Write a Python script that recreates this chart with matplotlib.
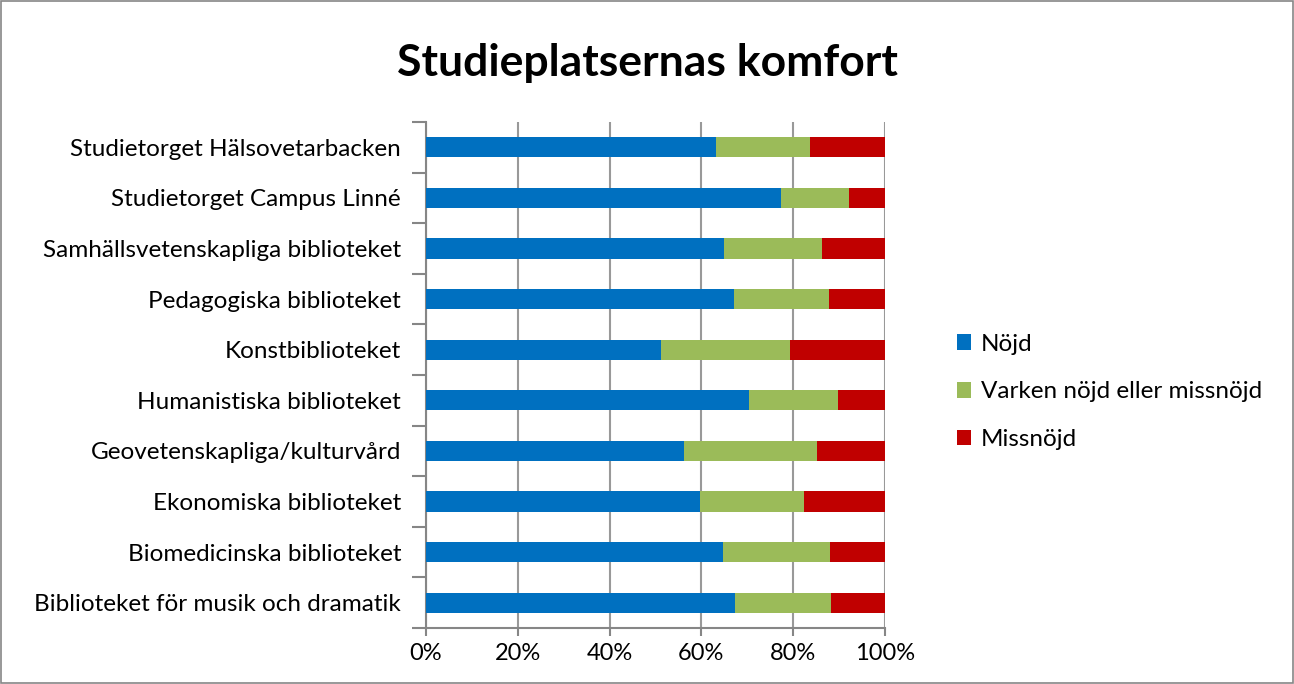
import numpy as np
import matplotlib.pyplot as plt
from matplotlib.patches import Rectangle

plt.rcParams['font.family'] = ['Lato', 'DejaVu Sans']

# data (bottom to top)
libraries = ["Biblioteket för musik och dramatik", "Biomedicinska biblioteket",
             "Ekonomiska biblioteket", "Geovetenskapliga/kulturvård",
             "Humanistiska biblioteket", "Konstbiblioteket",
             "Pedagogiska biblioteket", "Samhällsvetenskapliga biblioteket",
             "Studietorget Campus Linné", "Studietorget Hälsovetarbacken"]
nojd = [67.4, 64.8, 59.8, 56.3, 70.3, 51.2, 67.0, 64.9, 77.4, 63.2]
varken = [20.8, 23.2, 22.5, 28.8, 19.4, 28.0, 20.9, 21.3, 14.8, 20.5]
missnojd = [100 - a - b for a, b in zip(nojd, varken)]

series = [("Nöjd", nojd, "#0070C0"),
          ("Varken nöjd eller missnöjd", varken, "#9BBB59"),
          ("Missnöjd", missnojd, "#C00000")]

fig = plt.figure(figsize=(12.94, 6.84), dpi=100)
ax = fig.add_axes([426/1294, 1 - 628/684, 459/1294, 506/684])

y = np.arange(len(libraries))
left = np.zeros(len(libraries))
handles = []
for name, vals, col in series:
    b = ax.barh(y, vals, left=left, height=0.4, color=col, label=name, zorder=3)
    handles.append(b)
    left += np.array(vals)

ax.set_xlim(0, 100)
ax.set_ylim(-0.5, len(libraries) - 0.5)
ax.set_xticks(np.arange(0, 101, 20))
ax.set_xticklabels([f"{v}%" for v in range(0, 101, 20)], fontsize=17)
ax.set_yticks(y)
ax.set_yticklabels(libraries, fontsize=17.5)
ax.set_yticks(np.arange(-0.5, len(libraries), 1), minor=True)
ax.tick_params(axis='y', which='major', length=0, pad=18)
ax.tick_params(axis='y', which='minor', length=10, color='#868686', width=1.5)
ax.tick_params(axis='x', length=6, color='#868686', width=1.5, pad=5)
ax.grid(axis='x', color='#999999', linewidth=1.5, zorder=0)
for s in ['top', 'right']:
    ax.spines[s].set_visible(False)
for s in ['left', 'bottom']:
    ax.spines[s].set_color('#868686')
    ax.spines[s].set_linewidth(1.5)

fig.text(0.5, 1 - 63/684, "Studieplatsernas komfort", ha='center', va='center',
         fontsize=32, fontweight='bold')

fig.legend(handles=handles, loc='center left', bbox_to_anchor=(935/1294, 1 - 392/684),
           frameon=False, fontsize=17.5, handlelength=0.6, handleheight=0.6,
           labelspacing=1.1, handletextpad=0.4)

fig.patches.append(Rectangle((0.001, 0.001), 0.998, 0.998, transform=fig.transFigure,
                             fill=False, edgecolor='#868686', linewidth=1.2))

fig.savefig("out.png", dpi=100)
